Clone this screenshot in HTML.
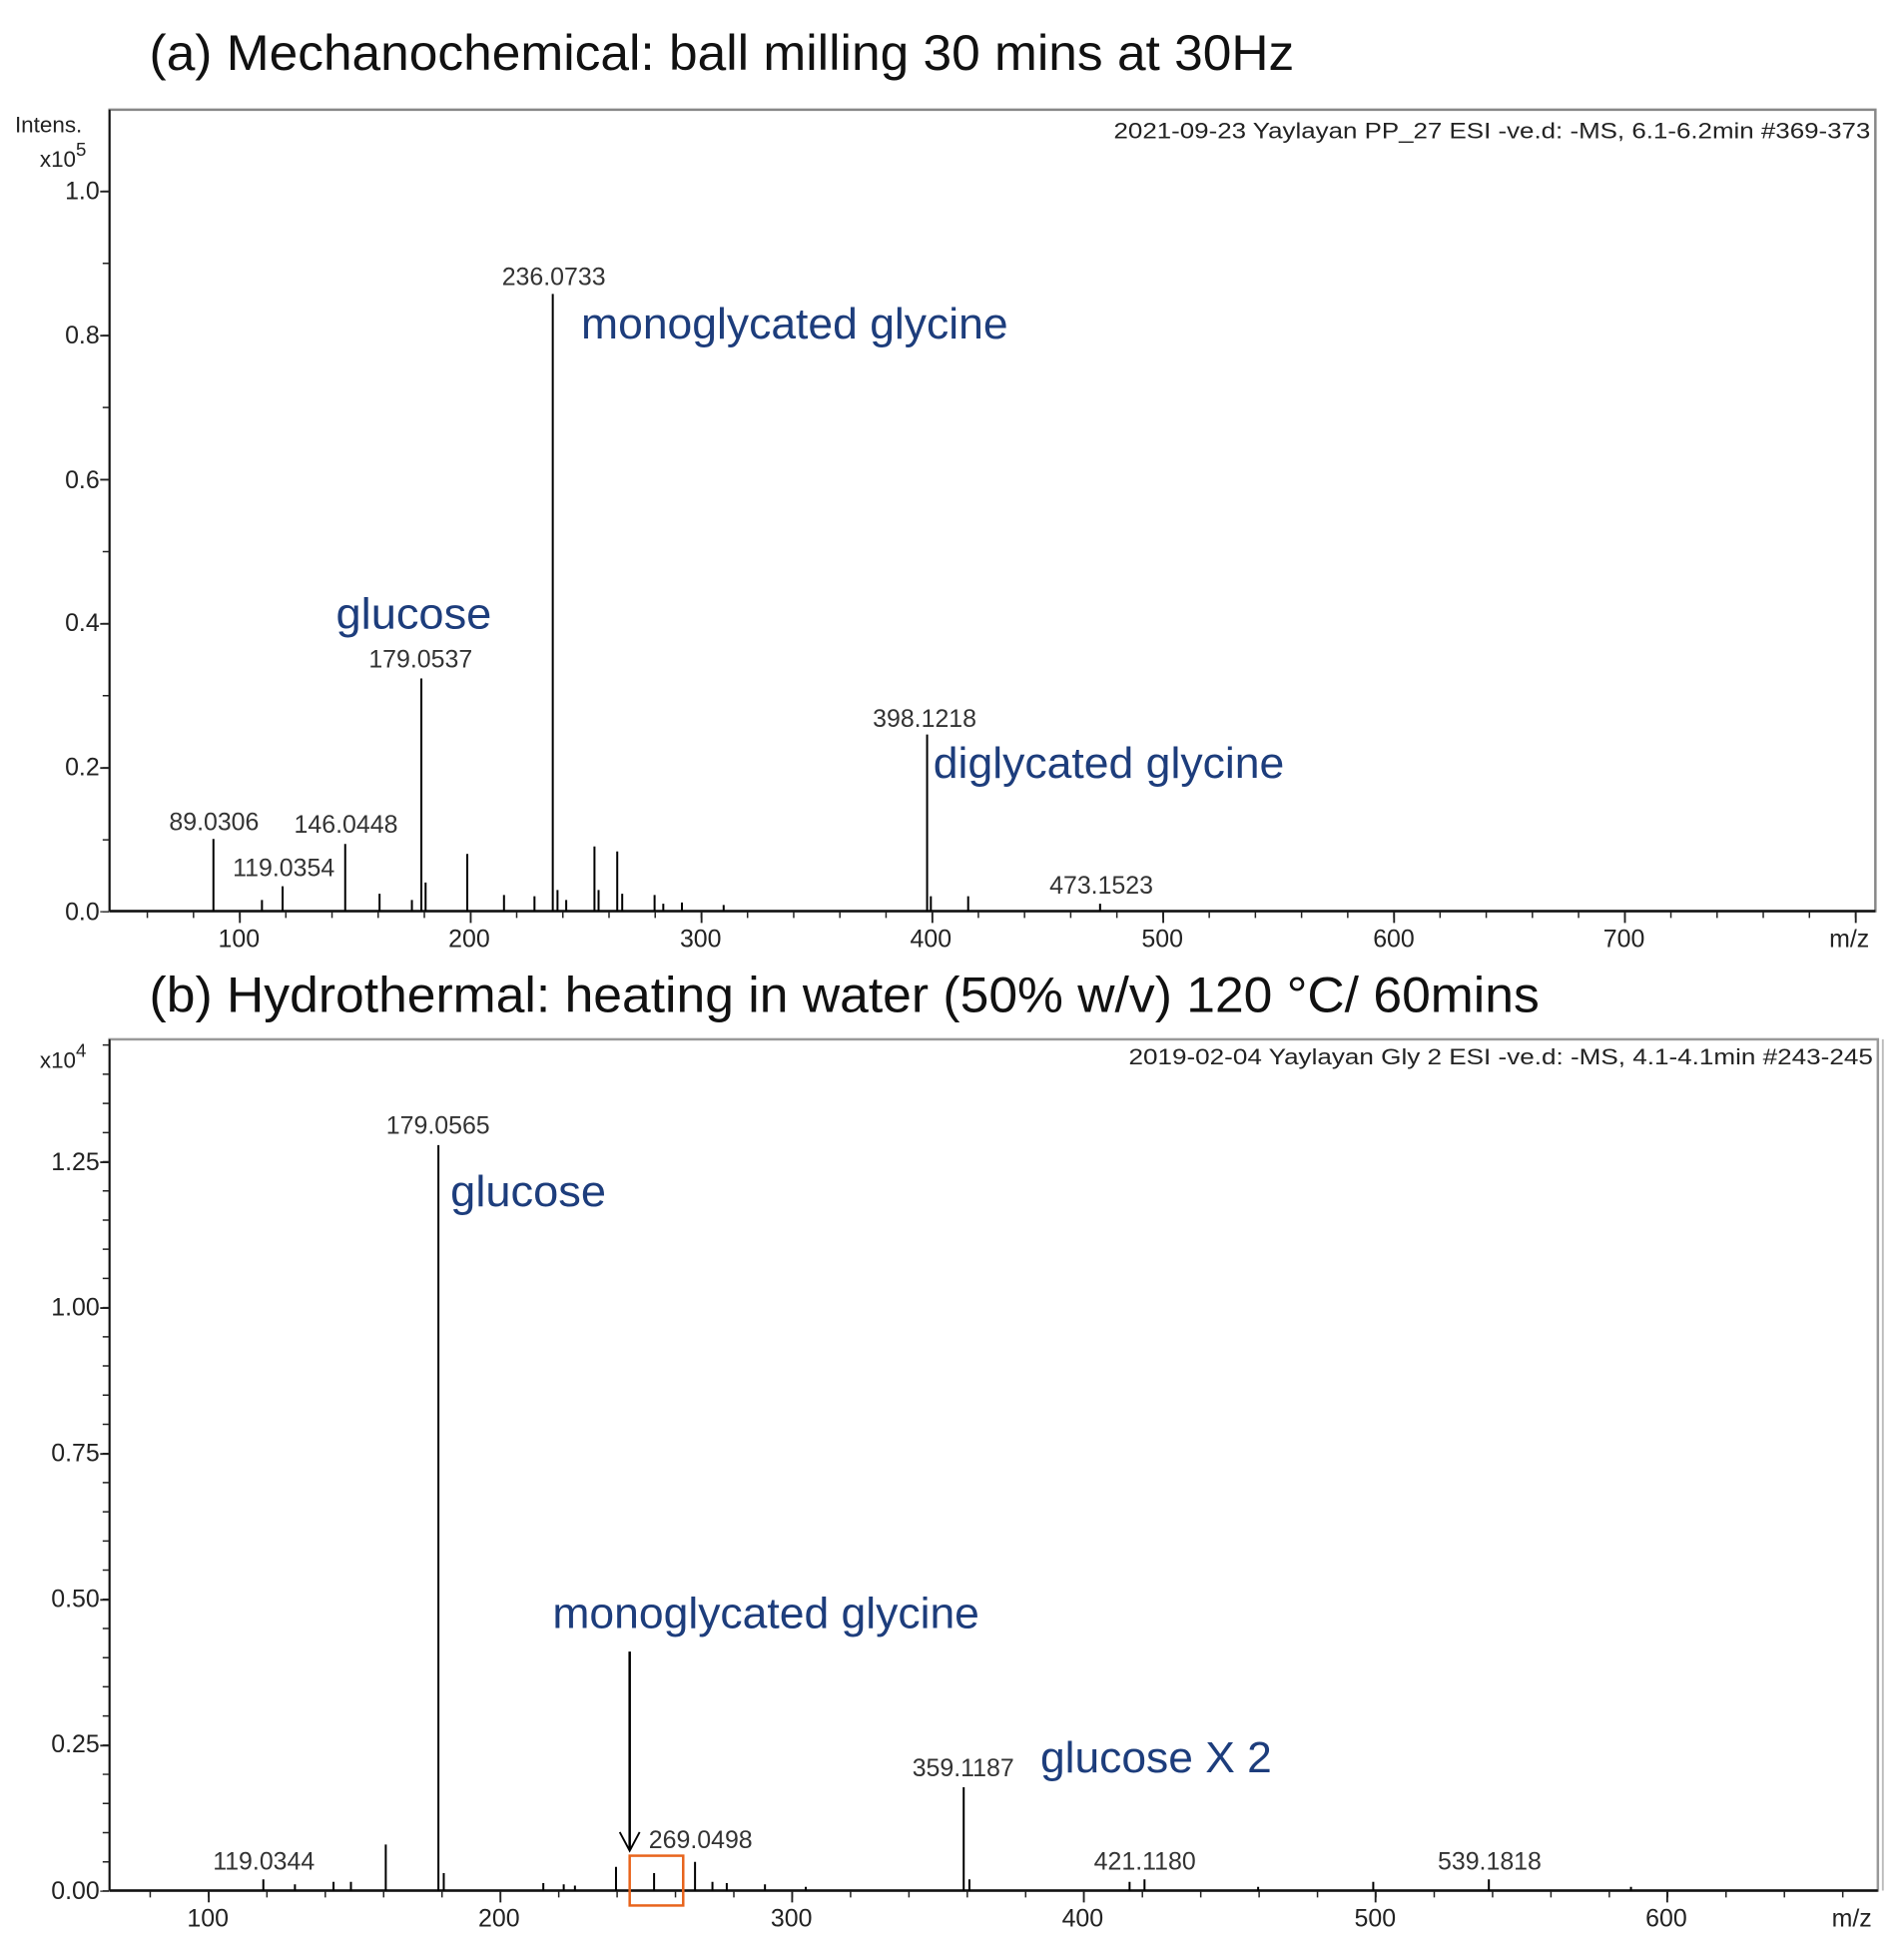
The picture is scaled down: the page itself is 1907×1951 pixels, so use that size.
<!DOCTYPE html>
<html><head><meta charset="utf-8"><style>
html,body{margin:0;padding:0;background:#fff}
svg{display:block}
text{font-family:"Liberation Sans",sans-serif}
.t{font-size:40px;fill:#111}
.lab{font-size:20px;fill:#333}
.tk{font-size:20px;fill:#222}
.bl{font-size:35px;fill:#1d3d7c}
.hd{font-size:18px;fill:#222}
</style></head><body>
<svg width="1907" height="1951" viewBox="0 0 1530 1565" xmlns="http://www.w3.org/2000/svg">
<rect width="1530" height="1565" fill="#fff"/>
<!-- Panel A -->
<text class="t" x="120" y="56" textLength="920" lengthAdjust="spacingAndGlyphs">(a) Mechanochemical: ball milling 30 mins at 30Hz</text>
<rect x="88" y="88" width="1419" height="644" fill="none" stroke="#888" stroke-width="2"/>
<line x1="88" y1="732" x2="1507" y2="732" stroke="#111" stroke-width="2"/>
<line x1="88" y1="88" x2="88" y2="732" stroke="#111" stroke-width="1.5"/>
<line x1="117.8" y1="735" x2="1507" y2="735" stroke="#222" stroke-width="5" stroke-dasharray="1.2 35.9"/>
<line x1="192" y1="737" x2="1507" y2="737" stroke="#222" stroke-width="9" stroke-dasharray="1.5 184"/>
<line x1="85" y1="153" x2="85" y2="733" stroke="#222" stroke-width="5" stroke-dasharray="1.2 56.7"/>
<line x1="84" y1="153" x2="84" y2="733" stroke="#222" stroke-width="7" stroke-dasharray="1.5 114.3"/>
<text class="hd" x="12" y="106">Intens.</text>
<text class="hd" x="32" y="134">x10<tspan font-size="15" dy="-9">5</tspan></text>
<g class="tk" text-anchor="end">
<text x="80" y="160">1.0</text><text x="80" y="276">0.8</text><text x="80" y="392">0.6</text>
<text x="80" y="507">0.4</text><text x="80" y="623">0.2</text><text x="80" y="739">0.0</text>
</g>
<g class="tk" text-anchor="middle">
<text x="192" y="761">100</text><text x="377" y="761">200</text><text x="563" y="761">300</text>
<text x="748" y="761">400</text><text x="934" y="761">500</text><text x="1120" y="761">600</text>
<text x="1305" y="761">700</text><text x="1486" y="761">m/z</text>
</g>
<text class="hd" x="895" y="111" textLength="608" lengthAdjust="spacingAndGlyphs">2021-09-23 Yaylayan PP_27 ESI -ve.d: -MS, 6.1-6.2min #369-373</text>
<path stroke="#000" stroke-width="1.6" fill="none" d="
M171.5 732V674 M210.5 732V723 M227.1 732V712 M277.4 732V678 M305 732V718 M331 732V723
M338.6 732V545 M342 732V709 M375.5 732V686 M405 732V719 M429.5 732V720 M444.2 732V236
M448 732V715 M455 732V723 M477.7 732V680 M481 732V715 M496 732V684 M500 732V718
M526 732V719 M533 732V726 M548 732V725 M581.5 732V727 M745 732V590 M748 732V720 M778 732V720 M884 732V726"/>
<g class="lab" text-anchor="middle">
<text x="445" y="229">236.0733</text>
<text x="338" y="536">179.0537</text>
<text x="172" y="667">89.0306</text>
<text x="278" y="669">146.0448</text>
<text x="228" y="704">119.0354</text>
<text x="743" y="584">398.1218</text>
<text x="885" y="718">473.1523</text>
</g>
<text class="bl" x="467" y="272" textLength="343" lengthAdjust="spacingAndGlyphs">monoglycated glycine</text>
<text class="bl" x="270" y="505" textLength="125" lengthAdjust="spacingAndGlyphs">glucose</text>
<text class="bl" x="750" y="625" textLength="282" lengthAdjust="spacingAndGlyphs">diglycated glycine</text>

<!-- Panel B -->
<text class="t" x="120" y="813" textLength="1117" lengthAdjust="spacingAndGlyphs">(b) Hydrothermal: heating in water (50% w/v) 120 °C/ 60mins</text>
<rect x="88" y="835" width="1421" height="684" fill="none" stroke="#999" stroke-width="2"/>
<line x1="1513" y1="835" x2="1513" y2="1519" stroke="#bbb" stroke-width="1.5"/>
<line x1="88" y1="1519" x2="1509" y2="1519" stroke="#111" stroke-width="2"/>
<line x1="88" y1="835" x2="88" y2="1519" stroke="#111" stroke-width="1.5"/>
<line x1="120.1" y1="1522" x2="1509" y2="1522" stroke="#222" stroke-width="5" stroke-dasharray="1.2 45.7"/>
<line x1="167" y1="1524" x2="1509" y2="1524" stroke="#222" stroke-width="9" stroke-dasharray="1.5 232.9"/>
<line x1="85" y1="839" x2="85" y2="1520" stroke="#222" stroke-width="5" stroke-dasharray="1.2 22.24"/>
<line x1="84" y1="933" x2="84" y2="1520" stroke="#222" stroke-width="7" stroke-dasharray="1.5 115.7"/>
<text class="hd" x="32" y="858">x10<tspan font-size="15" dy="-9">4</tspan></text>
<g class="tk" text-anchor="end">
<text x="80" y="940">1.25</text><text x="80" y="1057">1.00</text><text x="80" y="1174">0.75</text>
<text x="80" y="1291">0.50</text><text x="80" y="1408">0.25</text><text x="80" y="1526">0.00</text>
</g>
<g class="tk" text-anchor="middle">
<text x="167" y="1548">100</text><text x="401" y="1548">200</text><text x="636" y="1548">300</text>
<text x="870" y="1548">400</text><text x="1105" y="1548">500</text><text x="1339" y="1548">600</text>
<text x="1488" y="1548">m/z</text>
</g>
<text class="hd" x="907" y="855" textLength="598" lengthAdjust="spacingAndGlyphs">2019-02-04 Yaylayan Gly 2 ESI -ve.d: -MS, 4.1-4.1min #243-245</text>
<path stroke="#000" stroke-width="1.6" fill="none" d="
M211.6 1519V1510 M237 1519V1514 M268 1519V1512 M282 1519V1512 M310 1519V1482 M352.3 1519V920
M356.6 1519V1505 M436.6 1519V1513 M453 1519V1514 M462 1519V1515 M495 1519V1500 M525.6 1519V1505
M549 1519V1498 M558.5 1519V1496 M572.5 1519V1512 M584 1519V1513 M614.7 1519V1514 M647.5 1519V1516
M774.4 1519V1436 M779 1519V1510 M907.7 1519V1512 M919.7 1519V1510 M1011 1519V1516 M1103.5 1519V1512
M1196.4 1519V1510 M1310.6 1519V1516"/>
<g class="lab" text-anchor="middle">
<text x="352" y="911">179.0565</text>
<text x="212" y="1502">119.0344</text>
<text x="563" y="1485">269.0498</text>
<text x="774" y="1427">359.1187</text>
<text x="920" y="1502">421.1180</text>
<text x="1197" y="1502">539.1818</text>
</g>
<text class="bl" x="362" y="969" textLength="125" lengthAdjust="spacingAndGlyphs">glucose</text>
<text class="bl" x="444" y="1308" textLength="343" lengthAdjust="spacingAndGlyphs">monoglycated glycine</text>
<text class="bl" x="836" y="1424" textLength="186" lengthAdjust="spacingAndGlyphs">glucose X 2</text>
<line x1="506" y1="1327" x2="506" y2="1486" stroke="#000" stroke-width="2"/>
<path d="M498 1472 L506 1487 L514 1472" fill="none" stroke="#000" stroke-width="1.5"/>
<rect x="506" y="1491" width="43" height="40" fill="none" stroke="#e8641c" stroke-width="2"/>
</svg>
</body></html>
